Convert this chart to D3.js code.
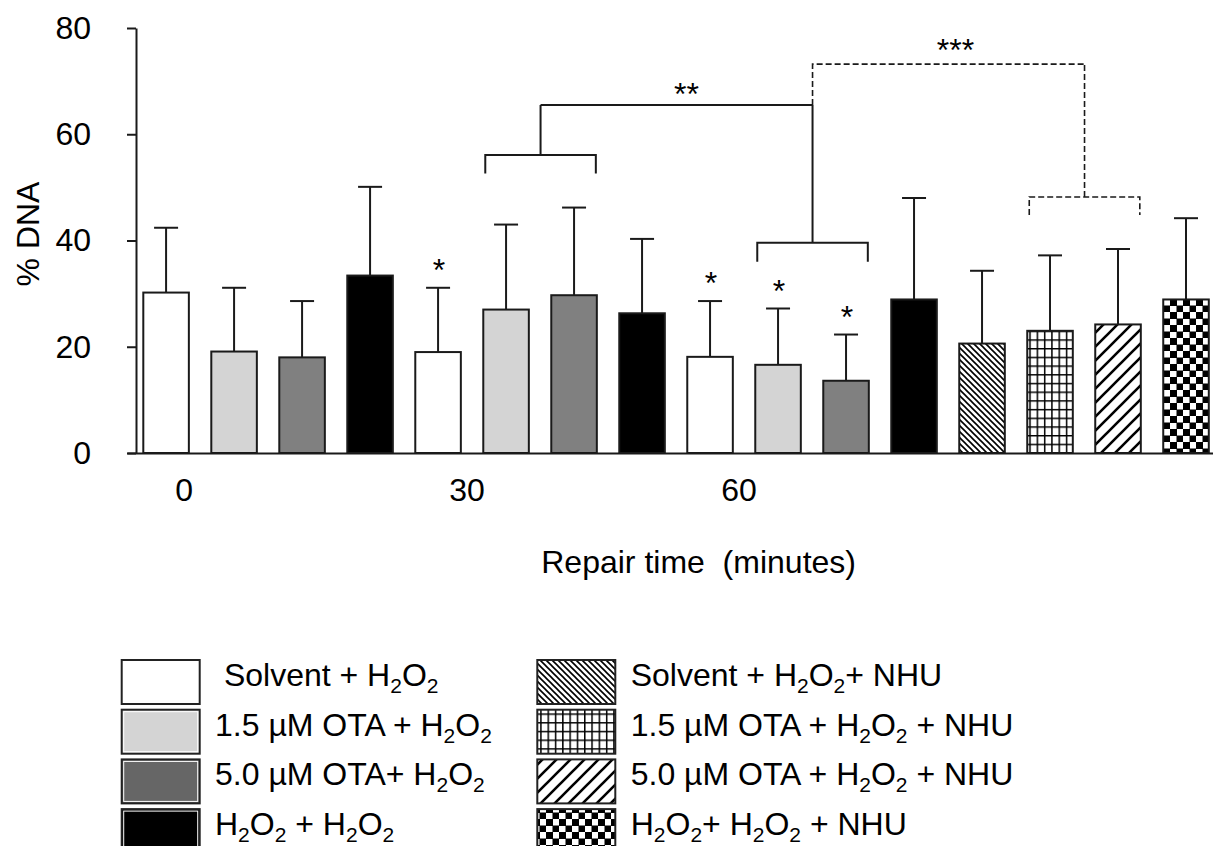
<!DOCTYPE html>
<html>
<head>
<meta charset="utf-8">
<script src="https://cdn.jsdelivr.net/npm/d3@7"></script>
<style>
  html, body { margin: 0; padding: 0; background: #fff; }
  svg { display: block; font-family: Arial, "Liberation Sans", sans-serif; }
  text { white-space: pre; }
</style>
</head>
<body>
<svg id="chart" width="1213" height="846"></svg>
<script>
// ---------------- data ----------------
const seriesNames = [
  " Solvent + H_2O_2",
  "1.5 µM OTA + H_2O_2",
  "5.0 µM OTA+ H_2O_2",
  "H_2O_2 + H_2O_2",
  "Solvent + H_2O_2+ NHU",
  "1.5 µM OTA + H_2O_2 + NHU",
  "5.0 µM OTA + H_2O_2 + NHU",
  "H_2O_2+ H_2O_2 + NHU"
];
const barIds     = ["b1","b2","b3","b4","b5","b6","b7","b8","b9","b10","b11","b12","b13","b14","b15","b16"];
const barSeries  = [0,1,2,3, 0,1,2,3, 0,1,2,3, 4,5,6,7];
const meanValues = [30.2, 19.1, 18.0, 33.4, 19.0, 27.0, 29.7, 26.3, 18.1, 16.6, 13.6, 28.9, 20.6, 23.0, 24.2, 28.9];
const sdValues   = [12.2, 12.0, 10.6, 16.7, 12.1, 16.0, 16.5, 14.0, 10.5, 10.6,  8.7, 19.1, 13.7, 14.2, 14.2, 15.3];
const yTicks     = [0, 20, 40, 60, 80];
const timeLabels = ["0", "30", "60"];
const timeLabelBars = [0, 4, 8];
const starBars   = [4, 8, 9, 10];
// comparison brackets (value units): legs from legY up to barY, stem up to stemTop
const bracketFrom   = [5, 9, 13];
const bracketTo     = [6, 10, 14];
const bracketLegY   = [52.6, 36.0, 44.8];
const bracketBarY   = [56.1, 39.6, 48.2];
const bracketStemTo = [65.5, 65.5, 73.2];
const bracketDashed = [false, false, true];
const sigLabels     = ["**", "***"];

// ---------------- setup ----------------
const svg = d3.select("#chart");
const FONT = 32;
const fills = ["#ffffff", "#d4d4d4", "#808080", "#000000",
               "url(#pBack)", "url(#pGrid)", "url(#pFwd)", "url(#pCheck)"];
const legendFills = ["#ffffff", "#d4d4d4", "#666666", "#000000",
               "url(#pBack)", "url(#pGrid)", "url(#pFwd)", "url(#pCheck)"];

const defs = svg.append("defs");
// back diagonal
const pb = defs.append("pattern").attr("id", "pBack").attr("patternUnits", "userSpaceOnUse")
  .attr("width", 6).attr("height", 6);
pb.append("rect").attr("width", 6).attr("height", 6).attr("fill", "#fff");
pb.append("path").attr("d", "M0,0L6,6M-1,5L1,7M5,-1L7,1").attr("stroke", "#000").attr("stroke-width", 1.6);
// grid
const pg = defs.append("pattern").attr("id", "pGrid").attr("patternUnits", "userSpaceOnUse")
  .attr("width", 7.3).attr("height", 8.7);
pg.append("rect").attr("width", 7.3).attr("height", 8.7).attr("fill", "#fff");
pg.append("path").attr("d", "M0.75,0V8.7M0,0.75H7.3").attr("stroke", "#000").attr("stroke-width", 1.5);
// forward diagonal
const pf = defs.append("pattern").attr("id", "pFwd").attr("patternUnits", "userSpaceOnUse")
  .attr("width", 14).attr("height", 14);
pf.append("rect").attr("width", 14).attr("height", 14).attr("fill", "#fff");
pf.append("path").attr("d", "M0,14L14,0M-3,3L3,-3M11,17L17,11").attr("stroke", "#000").attr("stroke-width", 2.6);
// checker
const pc = defs.append("pattern").attr("id", "pCheck").attr("patternUnits", "userSpaceOnUse")
  .attr("width", 13).attr("height", 13);
pc.append("rect").attr("width", 13).attr("height", 13).attr("fill", "#fff");
pc.append("rect").attr("x", 0).attr("y", 0).attr("width", 7).attr("height", 7).attr("fill", "#000");
pc.append("rect").attr("x", 6.5).attr("y", 6.5).attr("width", 7).attr("height", 7).attr("fill", "#000");

// scales
const x = d3.scaleBand().domain(barIds).range([143.3, 1208.8]).paddingInner(0.33).paddingOuter(0);
const y = d3.scaleLinear().domain([0, 80]).range([453, 28]);
const bw = x.bandwidth();

// y axis
const yAxis = svg.append("g").attr("transform", "translate(136,0)")
  .call(d3.axisLeft(y).tickValues(yTicks).tickSize(9).tickSizeOuter(0).tickPadding(36));
yAxis.selectAll("path, line").attr("stroke", "#1a1a1a").attr("stroke-width", 2);
yAxis.selectAll("text").attr("font-size", FONT).attr("fill", "#000")
  .attr("font-family", "Arial, 'Liberation Sans', sans-serif");

// x axis line (baseline)
const xLine = d3.scaleLinear().domain([0, 1]).range([127, 1213]);
svg.append("g").attr("transform", `translate(0,${y(0)})`)
  .call(d3.axisBottom(xLine).tickValues([]).tickSizeOuter(0))
  .selectAll("path").attr("stroke", "#1a1a1a").attr("stroke-width", 2);

// bars
const bars = barIds.map((id, i) => ({ id, i, s: barSeries[i], m: meanValues[i], sd: sdValues[i] }));
// error bars (drawn first so that bars cover the lower part)
const eg = svg.append("g").attr("stroke", "#1a1a1a").attr("stroke-width", 2);
eg.selectAll("line.v").data(bars).join("line").attr("class", "v")
  .attr("x1", d => x(d.id) + bw / 2).attr("x2", d => x(d.id) + bw / 2)
  .attr("y1", d => y(d.m)).attr("y2", d => y(d.m + d.sd));
eg.selectAll("line.c").data(bars).join("line").attr("class", "c")
  .attr("x1", d => x(d.id) + bw / 2 - 12).attr("x2", d => x(d.id) + bw / 2 + 12)
  .attr("y1", d => y(d.m + d.sd)).attr("y2", d => y(d.m + d.sd));

svg.append("g").selectAll("rect").data(bars).join("rect")
  .attr("x", d => x(d.id)).attr("width", bw)
  .attr("y", d => y(d.m)).attr("height", d => y(0) - y(d.m))
  .attr("fill", d => fills[d.s]).attr("stroke", "#1a1a1a").attr("stroke-width", 2);

// stars
svg.append("g").selectAll("text").data(starBars).join("text")
  .attr("x", i => x(barIds[i]) + bw / 2 + 1)
  .attr("y", i => y(meanValues[i] + sdValues[i]) - 7)
  .attr("text-anchor", "middle").attr("font-size", FONT).text("*");

// brackets
const bg = svg.append("g").attr("fill", "none").attr("stroke", "#1a1a1a").attr("stroke-width", 2);
const stems = [];
bracketFrom.forEach((f, k) => {
  const x1 = x(barIds[f]) + 2, x2 = x(barIds[bracketTo[k]]) + bw - 1;
  const xm = (x1 + x2) / 2;
  stems.push(xm);
  bg.append("path")
    .attr("d", `M${x1},${y(bracketLegY[k])}V${y(bracketBarY[k])}H${x2}V${y(bracketLegY[k])}M${xm},${y(bracketBarY[k])}V${y(bracketStemTo[k])}`)
    .attr("stroke-dasharray", bracketDashed[k] ? "6,3" : null)
    .attr("stroke-width", bracketDashed[k] ? 1.6 : 2);
});
// top connectors
bg.append("path").attr("d", `M${stems[0]},${y(bracketStemTo[0])}H${stems[1]}`);
bg.append("path").attr("d", `M${stems[1]},${y(bracketStemTo[1])}V${y(bracketStemTo[2])}H${stems[2]}`)
  .attr("stroke-dasharray", "6,3").attr("stroke-width", 1.6);
svg.append("text").attr("x", (stems[0] + stems[1]) / 2 + 10).attr("y", y(bracketStemTo[0]))
  .attr("text-anchor", "middle").attr("font-size", FONT).text(sigLabels[0]);
svg.append("text").attr("x", (stems[1] + stems[2]) / 2 + 7).attr("y", y(bracketStemTo[2]) - 3)
  .attr("text-anchor", "middle").attr("font-size", FONT).text(sigLabels[1]);

// x labels
const timeDx = [18, 29, 29];
svg.append("g").selectAll("text").data(timeLabels).join("text")
  .attr("x", (t, k) => x(barIds[timeLabelBars[k]]) + bw / 2 + timeDx[k])
  .attr("y", 501).attr("text-anchor", "middle").attr("font-size", FONT).text(t => t);

svg.append("text").attr("x", 698.6).attr("y", 573).attr("text-anchor", "middle")
  .attr("font-size", FONT).text("Repair time  (minutes)");

svg.append("text").attr("transform", "translate(39,234) rotate(-90)")
  .attr("text-anchor", "middle").attr("font-size", FONT).text("% DNA");

// legend
function richText(sel, str) {
  const parts = str.split(/(_\d)/).filter(p => p);
  let lowered = false;
  parts.forEach(p => {
    if (p[0] === "_") {
      sel.append("tspan").attr("font-size", 21).attr("dy", lowered ? 0 : 7).text(p.slice(1));
      lowered = true;
    } else {
      const t = sel.append("tspan").attr("font-size", FONT).text(p);
      if (lowered) { t.attr("dy", -7); lowered = false; }
    }
  });
}
const legX = [121.7, 537.3], legTextX = [215, 630.7];
seriesNames.forEach((name, s) => {
  const col = s < 4 ? 0 : 1, row = s % 4;
  const top = 660 + row * 49.7;
  const g = svg.append("g");
  g.append("rect").attr("x", legX[col]).attr("y", top).attr("width", 78).attr("height", 44)
    .attr("fill", legendFills[s]).attr("stroke", "#222").attr("stroke-width", 2);
  if (s < 4 && s > 0) {
    g.append("rect").attr("x", legX[col] + 2).attr("y", top + 2).attr("width", 74).attr("height", 40)
      .attr("fill", "none").attr("stroke", "#fff").attr("stroke-width", 1);
  }
  const t = g.append("text").attr("x", legTextX[col]).attr("y", top + 26).attr("font-size", FONT);
  richText(t, name);
});
</script>
</body>
</html>
